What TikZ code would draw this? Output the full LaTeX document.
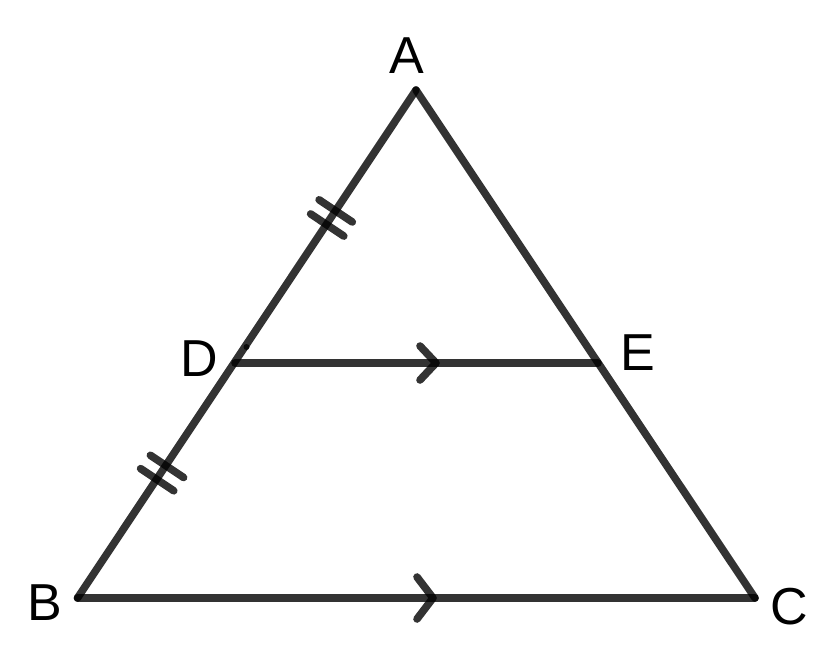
\documentclass[tikz,border=0pt]{standalone}
\usepackage{fontspec}
\setmainfont{Liberation Sans}
\usetikzlibrary{calc}
\begin{document}
\begin{tikzpicture}[x=1pt,y=-1pt,
  seg/.style={draw=black,draw opacity=0.8,line width=7.6pt,line cap=round,line join=round},
  lbl/.style={font=\fontsize{52}{60}\selectfont,text=black,inner sep=0pt,anchor=center}]
\useasboundingbox (0,0) rectangle (840,666);
\fill[white] (0,0) rectangle (840,666);
% vertices
\coordinate (A) at (416,90);
\coordinate (B) at (77.5,598);
\coordinate (C) at (755,598);
\coordinate (D) at (235,363);
\coordinate (E) at (598,363);
% sides
\draw[seg] (A) -- (B);
\draw[seg] (A) -- (C);
\draw[seg] (B) -- (C);
\draw[seg] (D) -- (E);
% small point mark near D
\fill[black,opacity=0.8] (246.5,347) circle (3pt);
% parallel arrows
\coordinate (m1) at (436,363);
\coordinate (m2) at (433,598);
\draw[seg] ($(m1)+(-16,-17)$) -- (m1) -- ($(m1)+(-16,17)$);
\draw[seg] ($(m2)+(-16,-21)$) -- (m2) -- ($(m2)+(-16,21)$);
% equal-length ticks
\coordinate (t1) at (335.7,210.9);
\coordinate (t2) at (327.2,225);
\coordinate (t3) at (167,466.4);
\coordinate (t4) at (157.2,479.7);
\foreach \t in {t1,t2,t3,t4}{
  \draw[seg] ($(\t)+(-16.6,-11.1)$) -- ($(\t)+(16.6,11.1)$);
}
% labels
\node[lbl] (lA) at (407,56) {A};
\node[lbl] (lB) at (45,603) {B};
\node[lbl] (lC) at (789,607) {C};
\node[lbl] (lD) at (199,359) {D};
\node[lbl] (lE) at (638,353) {E};
\end{tikzpicture}
\end{document}
